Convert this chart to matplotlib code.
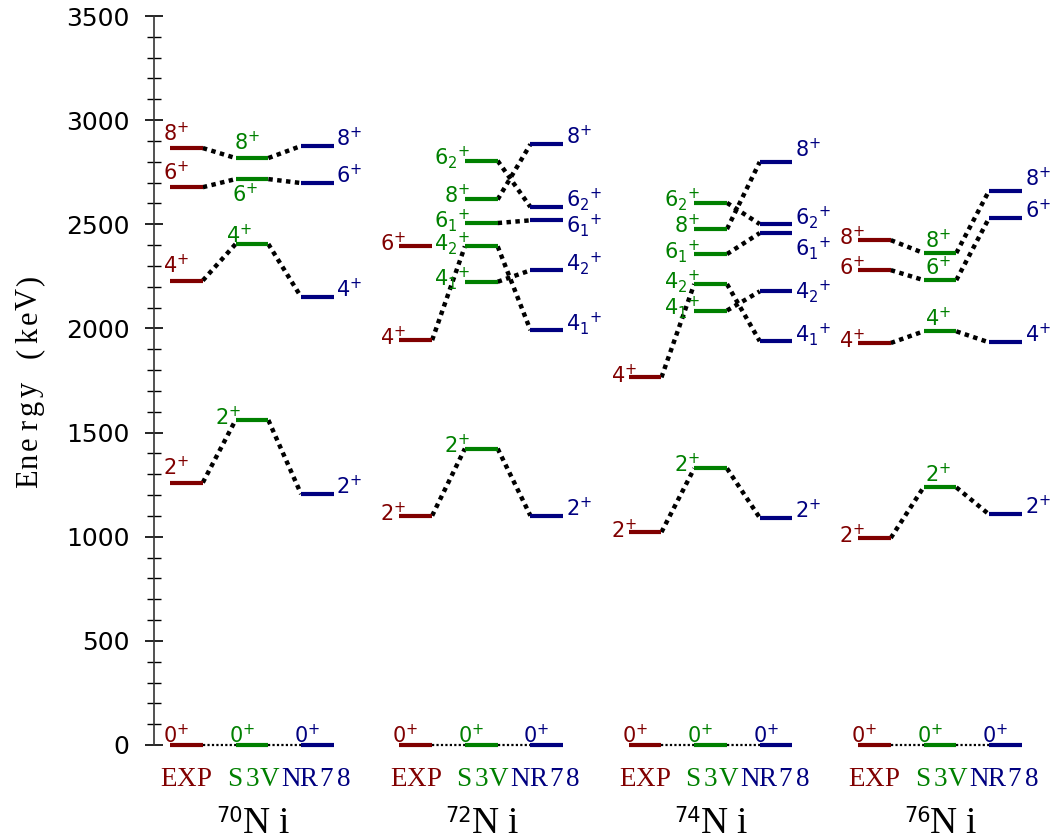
import matplotlib
matplotlib.use('Agg')
import matplotlib.pyplot as plt
from matplotlib.ticker import MultipleLocator

plt.rcParams['font.family'] = ['DejaVu Sans']
plt.rcParams['mathtext.fontset'] = 'dejavusans'

# level energies (keV)
ni70_states = ['0', '2', '4', '6', '8']
ni70_exp = [0, 1260, 2230, 2678, 2866]
ni70_s3v = [0, 1560, 2405, 2717, 2818]
ni70_nr78 = [0, 1205, 2151, 2698, 2876]

ni72_exp_states = ['0', '2', '4', '6']
ni72_exp = [0, 1101, 1944, 2397]
ni72_th_states = ['0', '2', '4_1', '4_2', '6_1', '6_2', '8']
ni72_s3v = [0, 1423, 2224, 2394, 2506, 2805, 2619]
ni72_nr78 = [0, 1101, 1992, 2279, 2519, 2583, 2884]

ni74_exp_states = ['0', '2', '4']
ni74_exp = [0, 1022, 1765]
ni74_th_states = ['0', '2', '4_1', '4_2', '6_1', '6_2', '8']
ni74_s3v = [0, 1328, 2086, 2213, 2357, 2603, 2477]
ni74_nr78 = [0, 1091, 1939, 2178, 2458, 2501, 2799]

ni76_states = ['0', '2', '4', '6', '8']
ni76_exp = [0, 994, 1930, 2280, 2424]
ni76_s3v = [0, 1237, 1986, 2232, 2362]
ni76_nr78 = [0, 1107, 1933, 2530, 2661]

nuclei = ['70', '72', '74', '76']
models = ['EXP', 'S3V', 'NR78']
colors = {'EXP': '#800000', 'S3V': '#008000', 'NR78': '#000080'}

levels = {
    '70': {'EXP': (ni70_states, ni70_exp), 'S3V': (ni70_states, ni70_s3v), 'NR78': (ni70_states, ni70_nr78)},
    '72': {'EXP': (ni72_exp_states, ni72_exp), 'S3V': (ni72_th_states, ni72_s3v), 'NR78': (ni72_th_states, ni72_nr78)},
    '74': {'EXP': (ni74_exp_states, ni74_exp), 'S3V': (ni74_th_states, ni74_s3v), 'NR78': (ni74_th_states, ni74_nr78)},
    '76': {'EXP': (ni76_states, ni76_exp), 'S3V': (ni76_states, ni76_s3v), 'NR78': (ni76_states, ni76_nr78)},
}

simple_links = [('EXP', s, 'S3V', s) for s in '2468'] + [('S3V', s, 'NR78', s) for s in '2468']
mixed_links = [('EXP', '2', 'S3V', '2'), ('S3V', '2', 'NR78', '2'),
               ('EXP', '4', 'S3V', '4_2'), ('S3V', '4_2', 'NR78', '4_1'),
               ('S3V', '4_1', 'NR78', '4_2'), ('S3V', '6_1', 'NR78', '6_1'),
               ('S3V', '6_2', 'NR78', '6_2'), ('S3V', '8', 'NR78', '8')]
links = {'70': simple_links, '72': mixed_links, '74': mixed_links, '76': simple_links}

# label placement: (anchor side, ha, dx px, dy px)
default_place = {
    ('70', 'EXP'): ('l', 'left', -7, 7),
    ('70', 'S3V'): ('l', 'left', -2, 8),
    ('70', 'NR78'): ('r', 'left', 2, 0),
    ('72', 'EXP'): ('l', 'right', 7, -5),
    ('72', 'S3V'): ('l', 'right', 5, -4),
    ('72', 'NR78'): ('r', 'left', 3, 0),
    ('74', 'EXP'): ('l', 'right', 8, -6),
    ('74', 'S3V'): ('l', 'right', 6, -4),
    ('74', 'NR78'): ('r', 'left', 3, 0),
    ('76', 'EXP'): ('l', 'right', 7, -5),
    ('76', 'S3V'): ('l', 'left', 1, 5),
    ('76', 'NR78'): ('r', 'left', 3, 0),
}
special_place = {
    ('70', 'S3V', '6'): ('l', 'left', -4, -23),
    ('70', 'S3V', '4'): ('l', 'left', -10, 1),
    ('70', 'S3V', '2'): ('l', 'right', 6, -5),
    ('72', 'NR78', '6_1'): ('r', 'left', 3, -12),
    ('74', 'NR78', '6_1'): ('r', 'left', 3, -22),
    ('74', 'NR78', '8'): ('r', 'left', 3, 5),
    ('74', 'NR78', '4_2'): ('r', 'left', 3, -7),
    ('76', 'NR78', '8'): ('r', 'left', 3, 5),
}

SERIF = 'Liberation Serif'


def lab(s):
    if '_' in s:
        n, k = s.split('_')
        return r'$%s_{%s}{}^{+}$' % (n, k)
    return r'$%s^{+}$' % s


def mono(ax, xy, s, adv, size, color, dy):
    # typewriter-like spacing: one serif glyph per fixed-width cell
    n = len(s)
    for i, ch in enumerate(s):
        if ch == ' ':
            continue
        ax.annotate(ch, xy=xy, xytext=((i - (n - 1) / 2) * adv, dy), textcoords='offset pixels',
                    ha='center', va='baseline', color=color, fontsize=size, family=SERIF,
                    annotation_clip=False)


fig = plt.figure(figsize=(10.53, 8.39), dpi=100)
ax = fig.add_axes([154 / 1053, 94 / 839, 899 / 1053, 729 / 839])
px = 32.76  # pixels per x unit
ax.set_xlim(0, 899 / px)
ax.set_ylim(0, 3500)

for p, nuc in enumerate(nuclei):
    pos = {}
    for m, mod in enumerate(models):
        x0 = 0.49 + 7 * p + 2 * m
        x1 = x0 + 1
        states, energies = levels[nuc][mod]
        for s, e in zip(states, energies):
            pos[(mod, s)] = (x0, x1, e)
            ax.plot([x0, x1], [e, e], color=colors[mod], lw=3, solid_capstyle='butt',
                    clip_on=False, zorder=3)
            if s == '0':
                side, ha, dx, dy = ('l', 'left', -7, 2)
            else:
                side, ha, dx, dy = special_place.get((nuc, mod, s), default_place[(nuc, mod)])
            xa = x0 if side == 'l' else x1
            ax.annotate(lab(s), xy=(xa, e), xytext=(dx, dy), textcoords='offset pixels',
                        ha=ha, va='baseline', color=colors[mod], fontsize=15,
                        annotation_clip=False, zorder=4)
        mono(ax, (x0 + 0.5, 0), mod, 17.6, 19.5, colors[mod], -41)
    # ground state links
    for a, b in [('EXP', 'S3V'), ('S3V', 'NR78')]:
        ax.plot([pos[(a, '0')][1], pos[(b, '0')][0]], [0, 0], color='black', lw=1.6,
                ls=(0, (1, 1)), clip_on=False, zorder=2)
    for a, sa, b, sb in links[nuc]:
        xa = pos[(a, sa)][1]
        ya = pos[(a, sa)][2]
        xb = pos[(b, sb)][0]
        yb = pos[(b, sb)][2]
        ax.plot([xa, xb], [ya, yb], color='black', lw=3.2, ls=(0, (1, 1)), zorder=2)
    xc = 0.49 + 7 * p + 2.5
    for ch, off in [('N', 4), ('i', 31)]:
        ax.annotate(ch, xy=(xc, 0), xytext=(off, -88), textcoords='offset pixels',
                    ha='center', va='baseline', fontsize=27, family=SERIF,
                    annotation_clip=False)
    ax.annotate(nuc, xy=(xc, 0), xytext=(-9.5, -61), textcoords='offset pixels',
                ha='right', va='top', fontsize=15, annotation_clip=False)

for side in ['top', 'right', 'bottom']:
    ax.spines[side].set_visible(False)
ax.spines['left'].set_color('#333333')
ax.spines['left'].set_linewidth(1.2)
ax.set_xticks([])
ax.yaxis.set_major_locator(MultipleLocator(500))
ax.yaxis.set_minor_locator(MultipleLocator(100))
ax.tick_params(axis='y', which='major', direction='inout', length=13, width=1.2, pad=11, labelsize=18)
ax.tick_params(axis='y', which='minor', direction='inout', length=10, width=1.0)

ylab = 'Energy (keV)'
for i, ch in enumerate(ylab):
    if ch == ' ':
        continue
    yc = 488 - 18.0 * (i + 0.5)
    fig.text(37 / 1053, 1 - yc / 839, ch, rotation=90, rotation_mode='anchor',
             ha='center', va='baseline', fontsize=22, family=SERIF)

fig.savefig('out.png', dpi=100)
